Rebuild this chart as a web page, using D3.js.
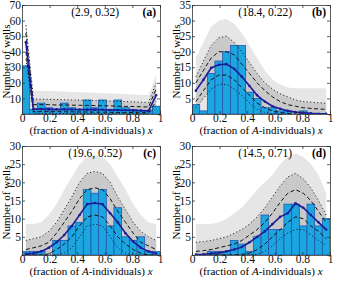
<!DOCTYPE html>
<html>
<head>
<meta charset="utf-8">
<script src="https://cdn.jsdelivr.net/npm/d3@7"></script>
<style>
  body { margin: 0; background: #fff; }
  svg { display: block; font-family: "Liberation Serif", "Times New Roman", serif; }
</style>
</head>
<body>
<div id="chart"></div>
<script>
// bin centres of the 18 histogram bins (fraction of A-individuals)
const binCenters = [0.028, 0.083, 0.139, 0.194, 0.25, 0.306, 0.361, 0.417, 0.472,
                    0.528, 0.583, 0.639, 0.694, 0.75, 0.806, 0.861, 0.917, 0.972]
const binWidth = 1 / 18
const xTicks = [0, 0.2, 0.4, 0.6, 0.8, 1]
const xTickLabels = ['0', '0.2', '0.4', '0.6', '0.8', '1']

// (a)
const countsA = [31, 3, 7, 4, 3, 7, 4, 3, 9, 4, 9, 3, 9, 4, 3, 2, 2, 5]
const meanA   = [46, 3.2, 3.1, 3, 3, 3, 2.9, 2.9, 2.8, 2.8, 2.7, 2.6, 2.5, 2.4, 2.3, 2.2, 2, 12]
const dashHiA = [52, 6, 6, 6, 5.8, 5.8, 5.7, 5.6, 5.5, 5.4, 5.3, 5.2, 5, 4.9, 4.8, 4.6, 4.5, 16]
const dashLoA = [40, 1.5, 1.5, 1.5, 1.5, 1.4, 1.4, 1.3, 1.3, 1.2, 1.2, 1.1, 1, 1, 0.9, 0.8, 0.8, 8]
const dotHiA  = [57, 9.5, 9.5, 9.4, 9.3, 9.2, 9, 8.9, 8.8, 8.6, 8.5, 8.3, 8.1, 8, 7.8, 7.6, 7.4, 20]
const dotLoA  = [35, 0.3, 0.3, 0.3, 0.3, 0.3, 0.3, 0.3, 0.3, 0.3, 0.2, 0.2, 0.2, 0.2, 0.2, 0.2, 0.2, 5]
const bandHiA = [60, 15, 15, 14.8, 14.6, 14.4, 14.2, 14, 13.8, 13.6, 13.4, 13.2, 13, 12.8, 12.6, 12.4, 12.2, 25]
const yTicksA = [10, 20, 30, 40, 50, 60, 70]

// (b)
const countsB = [3, 1, 13, 17, 20, 22, 22, 7, 5, 2, 2, 1, 1, 0, 1, 0, 0, 0]
const meanB   = [7.5, 11, 14.8, 15.8, 16, 14.5, 12, 9, 6, 4, 2.5, 1.7, 1, 0.6, 0.4, 0.2, 0.1, 0.05]
const dashHiB = [10, 14, 18, 20, 20, 19, 16, 13, 10, 7.5, 5.5, 4, 3, 2.5, 2, 1.8, 1.6, 1.5]
const dashLoB = [4, 7.5, 11, 12.5, 12.5, 11, 8.5, 6, 3.5, 2, 1, 0.5, 0.2, 0, 0, 0, 0, 0]
const dotHiB  = [12, 17, 22, 24.5, 25, 23, 20, 16.5, 13, 10, 8, 6.5, 5.5, 4.5, 4, 3.8, 3.6, 3.5]
const dotLoB  = [2, 5, 8, 9.5, 9.5, 8, 6, 3.5, 1.5, 0.5, 0, 0, 0, 0, 0, 0, 0, 0]
const bandHiB = [18, 23, 28, 30, 30.5, 29, 26, 22, 18, 14, 11, 9.5, 8.5, 8.3, 8.3, 8.3, 8.3, 8.3]
const yTicksB = [5, 10, 15, 20, 25, 30, 35]

// (c)
const countsC = [1, 1, 1, 0, 4, 4, 8, 9, 18, 17, 18, 8, 13, 5, 4, 5, 1, 1]
const meanC   = [0.3, 0.5, 1, 2, 3.5, 5.5, 8, 11, 14, 14.3, 14, 11.5, 9, 6, 3.7, 2, 1, 0.4]
const dashHiC = [1.5, 2, 2.5, 3.5, 6, 9, 12, 15.5, 18, 18.5, 18, 15.5, 12, 9, 6, 3.5, 2.5, 1.5]
const dashLoC = [0, 0, 0, 0.3, 1.5, 3, 5, 8, 10.5, 11, 10.5, 8, 5, 3, 1.5, 0.5, 0, 0]
const dotHiC  = [4, 4.5, 5, 6.5, 9, 12.5, 16, 20, 22.5, 23, 22.5, 20, 16, 12.5, 9, 6.5, 5, 4]
const dotLoC  = [0, 0, 0, 0, 0, 0.5, 2, 5, 8, 8.5, 8, 5, 2, 0.5, 0, 0, 0, 0]
const bandHiC = [8.5, 8.5, 9, 11, 14, 18, 21.5, 25, 27, 27.5, 27, 25, 21.5, 18, 14, 11, 9, 8.5]
const yTicksC = [5, 10, 15, 20, 25, 30]

// (d)
const countsD = [0, 0, 1, 1, 1, 4, 3, 1, 5, 11, 7, 7, 14, 14, 8, 14, 8, 10]
const meanD   = [0.1, 0.2, 0.4, 0.6, 1, 1.5, 2.2, 3.5, 5, 6.5, 8.5, 10.5, 11.5, 14.2, 13, 11, 9, 7]
const dashHiD = [1, 1.2, 1.5, 2, 2.5, 3, 4, 5.5, 7, 9, 11.5, 14.5, 17, 18, 17, 15, 12, 9]
const dashLoD = [0, 0, 0, 0, 0, 0, 0.2, 0.5, 1.5, 3, 5, 7, 9, 10.5, 10, 8, 6.5, 4.5]
const dotHiD  = [3.5, 3.7, 4, 4.5, 5, 6, 7, 8.5, 10.5, 13, 16, 19, 21.5, 22.5, 21, 18.5, 15, 11]
const dotLoD  = [0, 0, 0, 0, 0, 0, 0, 0, 0.2, 1, 2.5, 4.5, 6, 7, 7, 5.5, 4, 2.5]
const bandHiD = [8.5, 8.5, 8.5, 9, 10, 11.5, 13, 15.5, 18, 20, 22, 25, 27, 28, 27, 25, 22, 17]
const yTicksD = [5, 10, 15, 20, 25, 30]

const titles = ['(2.9, 0.32)', '(18.4, 0.22)', '(19.6, 0.52)', '(14.5, 0.71)']
const letters = ['(a)', '(b)', '(c)', '(d)']
const yMax = [70, 35, 30, 30]

const panels = [
  { counts: countsA, mean: meanA, dashHi: dashHiA, dashLo: dashLoA, dotHi: dotHiA, dotLo: dotLoA, bandHi: bandHiA, yTicks: yTicksA, left: 22, top: 5 },
  { counts: countsB, mean: meanB, dashHi: dashHiB, dashLo: dashLoB, dotHi: dotHiB, dotLo: dotLoB, bandHi: bandHiB, yTicks: yTicksB, left: 192, top: 5 },
  { counts: countsC, mean: meanC, dashHi: dashHiC, dashLo: dashLoC, dotHi: dotHiC, dotLo: dotLoC, bandHi: bandHiC, yTicks: yTicksC, left: 22, top: 146 },
  { counts: countsD, mean: meanD, dashHi: dashHiD, dashLo: dashLoD, dotHi: dotHiD, dotLo: dotLoD, bandHi: bandHiD, yTicks: yTicksD, left: 192, top: 146 }
]

const width = 345
const height = 281
const pw = 138
const ph = 109
const font = '"Liberation Serif", "Times New Roman", serif'
const fs = 11

const svg = d3.select('#chart')
  .append('svg')
  .attr('width', width)
  .attr('height', height)

panels.forEach((p, k) => {
  const x = d3.scaleLinear().domain([0, 1]).range([0, pw])
  const y = d3.scaleLinear().domain([0, yMax[k]]).range([ph, 0])

  const g = svg.append('g').attr('transform', `translate(${p.left},${p.top})`)
  const clipId = 'clip' + k
  g.append('clipPath').attr('id', clipId)
    .append('rect').attr('width', pw).attr('height', ph)
  const plot = g.append('g').attr('clip-path', `url(#${clipId})`)

  const pts = binCenters.map((c, i) => i)

  // light band, 0 .. outer bound
  plot.append('path')
    .datum(pts)
    .attr('d', d3.area().x(i => x(binCenters[i])).y0(y(0)).y1(i => y(p.bandHi[i])))
    .attr('fill', '#e6e6e6')

  // darker band between dotted bounds
  plot.append('path')
    .datum(pts)
    .attr('d', d3.area().x(i => x(binCenters[i])).y0(i => y(p.dotLo[i])).y1(i => y(p.dotHi[i])))
    .attr('fill', '#c9c9c9')

  // histogram
  plot.selectAll('rect.bar')
    .data(p.counts)
    .enter()
    .append('rect')
    .attr('class', 'bar')
    .attr('x', (_, i) => x(binCenters[i] - binWidth / 2))
    .attr('y', d => y(d))
    .attr('width', x(binWidth))
    .attr('height', d => y(0) - y(d))
    .attr('fill', '#1ba6e0')
    .attr('stroke', '#2257b0')
    .attr('stroke-width', 0.8)

  const line = key => d3.line().x(i => x(binCenters[i])).y(i => y(p[key][i]))

  ;[['dotHi', '1,2.5'], ['dotLo', '1,2.5'], ['dashHi', '4,2.5'], ['dashLo', '4,2.5']].forEach(([key, dash]) => {
    plot.append('path')
      .datum(pts)
      .attr('d', line(key))
      .attr('fill', 'none')
      .attr('stroke', '#111')
      .attr('stroke-width', 1)
      .attr('stroke-dasharray', dash)
  })

  plot.append('path')
    .datum(pts)
    .attr('d', line('mean'))
    .attr('fill', 'none')
    .attr('stroke', '#1c1c96')
    .attr('stroke-width', 1.6)

  plot.selectAll('circle.m')
    .data(pts)
    .enter()
    .append('circle')
    .attr('class', 'm')
    .attr('cx', i => x(binCenters[i]))
    .attr('cy', i => y(p.mean[i]))
    .attr('r', 1.3)
    .attr('fill', '#1c1c96')

  // axes box with inward ticks
  const axB = d3.axisBottom(x).tickValues(xTicks).tickSize(-3).tickPadding(0).tickFormat((d, i) => xTickLabels[i])
  const axT = d3.axisTop(x).tickValues(xTicks).tickSize(-3).tickFormat('')
  const axL = d3.axisLeft(y).tickValues(p.yTicks).tickSize(-3).tickPadding(1)
  const axR = d3.axisRight(y).tickValues(p.yTicks).tickSize(-3).tickFormat('')

  const gb = g.append('g').attr('transform', `translate(0,${ph})`).call(axB)
  const gt = g.append('g').call(axT)
  const gl = g.append('g').call(axL)
  const gr = g.append('g').attr('transform', `translate(${pw},0)`).call(axR)
  ;[gb, gt, gl, gr].forEach(a => {
    a.select('.domain').attr('stroke', '#333').attr('stroke-width', 0.8)
    a.selectAll('.tick line').attr('stroke', '#333').attr('stroke-width', 0.8)
    a.selectAll('text').attr('font-family', font).attr('font-size', fs + 0.5).attr('fill', '#111')
  })

  // labels
  g.append('text')
    .attr('x', pw * 0.53)
    .attr('y', 11)
    .attr('text-anchor', 'middle')
    .style('font', `normal ${fs + 0.5}px ${font}`)
    .text(titles[k])

  g.append('text')
    .attr('x', pw - 4)
    .attr('y', 11)
    .attr('text-anchor', 'end')
    .style('font', `bold ${fs + 0.5}px ${font}`)
    .text(letters[k])

  const xl = g.append('text')
    .attr('x', pw / 2)
    .attr('y', ph + 19.5)
    .attr('text-anchor', 'middle')
    .style('font', `normal ${fs}px ${font}`)
  xl.append('tspan').text('(fraction of ')
  xl.append('tspan').style('font-style', 'italic').text('A')
  xl.append('tspan').text('-individuals) ')
  xl.append('tspan').style('font-style', 'italic').text('x')

  g.append('text')
    .attr('transform', `translate(-12.5,${ph / 2 + 2}) rotate(-90)`)
    .attr('text-anchor', 'middle')
    .style('font', `normal ${fs}px ${font}`)
    .text('Number of wells')
})
</script>
</body>
</html>
